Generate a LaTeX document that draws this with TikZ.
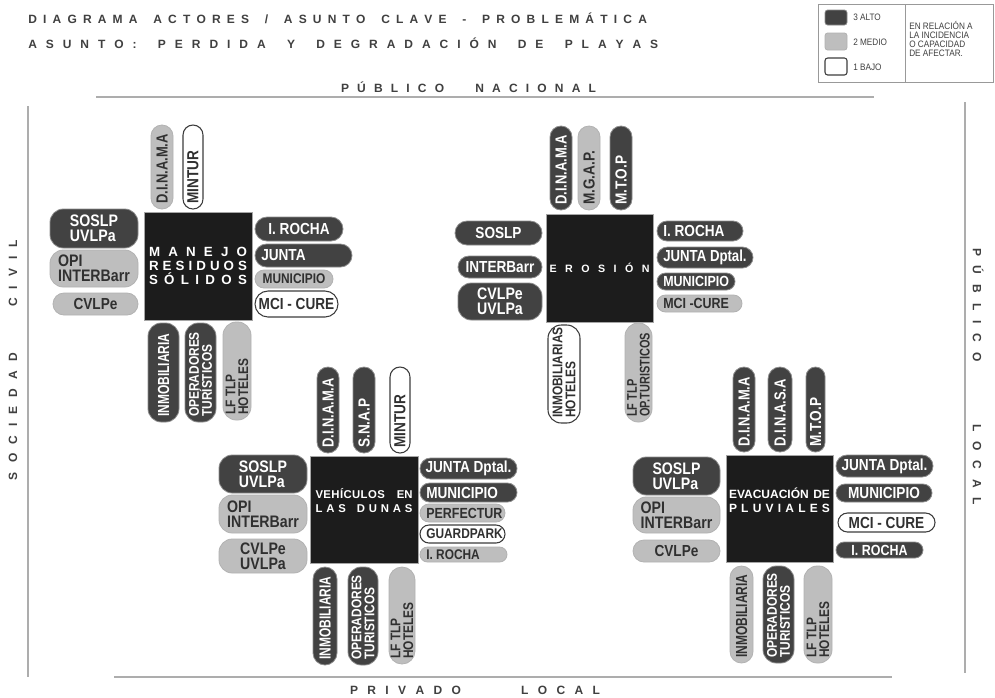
\documentclass[tikz,border=0pt]{standalone}
\usepackage{fontspec}
\setmainfont{Liberation Sans}
\newfontfamily\pillfam{Liberation Sans}[FakeStretch=0.85]
\newfontfamily\narrowfam{Liberation Sans}[FakeStretch=0.88]
\usepackage{graphicx}
\definecolor{dkfill}{HTML}{424242}
\definecolor{dkdraw}{HTML}{8C8C8C}
\definecolor{mdfill}{HTML}{BEBEBE}
\definecolor{mddraw}{HTML}{B2B2B2}
\definecolor{whdraw}{HTML}{3C3C3C}
\definecolor{sqfill}{HTML}{1C1C1C}
\definecolor{framec}{HTML}{ADADAD}
\definecolor{lblc}{HTML}{404040}
\definecolor{mdtxtc}{HTML}{303030}
% letter spreading
\def\sprA#1{#1\sprB}
\def\sprB#1{\ifx\relax#1\else\hfill#1\expandafter\sprB\fi}
\newcommand\spreadtext[2]{\makebox[#1]{\sprA#2\relax}}
\newcommand\pfs[1]{\pgfmathsetmacro\pfbl{#1*0.92}\fontsize{#1}{\pfbl}\selectfont\pillfam\bfseries}
\newcommand\pillshape[6]{%
  \pgfmathsetmacro\pw{(#5-#3)*0.75}%
  \pgfmathsetmacro\ph{(#6-#4)*0.75}%
  \pgfmathsetmacro\pr{min(\pw,\ph)/2}%
  \pgfmathsetmacro\pr{min(\pr,10)}%
  \node[pillbox, #2, minimum width=\pw pt, minimum height=\ph pt, rounded corners=\pr pt] (#1) at ({(#3+#5)/2},{(#4+#6)/2}) {};%
}
\newcommand\hpill[9]{%
  \pillshape{#1}{#2}{#3}{#4}{#5}{#6}%
  \node[#2txt, inner sep=0pt, align=left, font=\pfs{#7}, xscale=#8, transform shape] at (#1.center) {#9};%
}
\newcommand\hpillL[9]{%
  \pillshape{#1}{#2}{#3}{#4}{#5}{#6}%
  \node[#2txt, inner sep=0pt, align=left, font=\pfs{#7}, anchor=west, xscale=#8, transform shape] at ({#3+6},{(#4+#6)/2}) {#9};%
}
\newcommand\vpill[9]{%
  \pillshape{#1}{#2}{#3}{#4}{#5}{#6}%
  \node[#2txt, inner sep=0pt, align=left, font=\pfs{#7}, anchor=west, rotate=90, xscale=#8, transform shape] at ({(#3+#5)/2},{#6-5}) {#9};%
}
\newcommand\sqbox[5]{%
  \pgfmathsetmacro\pw{(#4-#2)*0.75}%
  \pgfmathsetmacro\ph{(#5-#3)*0.75}%
  \node[sqstyle, minimum width=\pw pt, minimum height=\ph pt] (#1) at ({(#2+#4)/2},{(#3+#5)/2}) {};%
}
\begin{document}
\begin{tikzpicture}[x=0.75pt,y=-0.75pt,
  pillbox/.style={inner sep=0pt, outer sep=0pt},
  dk/.style={fill=dkfill, draw=dkdraw, line width=0.6pt},
  md/.style={fill=mdfill, draw=mddraw, line width=0.6pt},
  wh/.style={fill=white, draw=whdraw, line width=0.8pt},
  dktxt/.style={text=white},
  mdtxt/.style={text=mdtxtc},
  whtxt/.style={text=mdtxtc},
  sqstyle/.style={fill=sqfill, draw=gray!70, line width=0.6pt, inner sep=0pt},
  sqtxt/.style={text=white, inner sep=0pt, align=center},
  frameline/.style={draw=framec, line width=1.5pt},
  lbl/.style={text=lblc, inner sep=0pt, font=\fontsize{9}{10}\selectfont\bfseries},
  legtxt/.style={text=lblc, inner sep=0pt, font=\fontsize{7}{6.75}\selectfont\narrowfam},
  swatch/.style={minimum width=16.5pt, inner sep=0pt, rounded corners=2pt}
]
\useasboundingbox (0,0) rectangle (995,697);
\fill[white] (0,0) rectangle (995,697);

% frame
\draw[frameline] (96,97) -- (874,97);
\draw[frameline] (28,106) -- (28,677);
\draw[frameline] (114,677) -- (892,677);
\draw[frameline] (965,102) -- (965,673);

% titles and frame labels
\node[lbl, anchor=west] (t1) at (28,18) {\spreadtext{464pt}{DIAGRAMA~ACTORES~/~ASUNTO~CLAVE~-~PROBLEMÁTICA}};
\node[lbl, anchor=west] (t2) at (28,43) {\spreadtext{472.5pt}{ASUNTO:~PERDIDA~Y~DEGRADACIÓN~DE~PLAYAS}};
\node[lbl] (ltop) at (468.5,87) {\spreadtext{191.25pt}{PÚBLICO~~NACIONAL}};
\node[lbl] (lbot) at (475,690) {\spreadtext{187.5pt}{PRIVADO~~~~LOCAL}};
\node[lbl, rotate=90] (lleft) at (13,360) {\spreadtext{180pt}{SOCIEDAD~~~CIVIL}};
\node[lbl, rotate=-90] (lright) at (978,376.5) {\spreadtext{192.75pt}{PÚBLICO~~~~LOCAL}};

% legend
\draw[draw=gray!80, line width=0.6pt] (818,4) rectangle (993,82);
\draw[draw=gray!80, line width=0.6pt] (905,4) -- (905,82);
\node[swatch, dk, minimum height=11.25pt] (sw1) at (836,17.5) {};
\node[swatch, md, minimum height=12.75pt] (sw2) at (836,41.5) {};
\node[swatch, wh, minimum height=12.75pt] (sw3) at (836,66.5) {};
\node[legtxt, anchor=west] (lg1) at (853,17) {3 ALTO};
\node[legtxt, anchor=west] (lg2) at (853,42) {2 MEDIO};
\node[legtxt, anchor=west] (lg3) at (853,67) {1 BAJO};
\node[legtxt, anchor=west, align=left] (lg4) at (909,38.5) {EN RELACIÓN A\\LA INCIDENCIA\\O CAPACIDAD\\DE AFECTAR.};

% ===== cluster 1: manejo residuos solidos
\sqbox{s1}{144}{212}{252}{320}
\node[sqtxt, font=\fontsize{10}{10.5}\selectfont\bfseries] (s1t) at (s1.center) {\spreadtext{73.5pt}{MANEJO}\\\spreadtext{73.5pt}{RESIDUOS}\\\spreadtext{73.5pt}{SÓLIDOS}};
\vpill{a1}{md}{151}{125}{173}{209}{12}{0.95}{D.I.N.A.M.A}
\vpill{a2}{wh}{183}{125}{203}{209}{12}{1}{MINTUR}
\hpill{a3}{dk}{50}{209}{138}{248}{12.5}{1}{SOSLP\\UVLPa}
\hpill{a4}{md}{50}{250}{138}{287}{12.5}{1}{OPI\\INTERBarr}
\hpill{a5}{md}{53}{293}{138}{315}{12}{1}{CVLPe}
\hpill{a6}{dk}{255}{217}{343}{241}{12}{1}{I. ROCHA}
\hpillL{a7}{dk}{255}{244}{352}{267}{12}{1}{JUNTA}
\hpill{a8}{md}{255}{270}{333}{288}{10.5}{1}{MUNICIPIO}
\hpill{a9}{wh}{255}{291}{338}{317}{12}{1}{MCI - CURE}
\vpill{a10}{dk}{148}{323}{179}{422}{12}{0.88}{INMOBILIARIA}
\vpill{a11}{dk}{185}{323}{216}{422}{10.5}{1}{OPERADORES\\TURÍSTICOS}
\vpill{a12}{md}{223}{322}{251}{420}{10.5}{1}{LF TLP\\HOTELES}

% ===== cluster 2: erosion
\sqbox{s2}{546}{214}{653}{322}
\node[sqtxt, font=\fontsize{8}{9}\selectfont\bfseries] (s2t) at (s2.center) {\spreadtext{75pt}{EROSIÓN}};
\vpill{b1}{dk}{550}{126}{572}{210}{12}{0.95}{D.I.N.A.M.A}
\vpill{b2}{md}{578}{126}{600}{210}{12}{1}{M.G.A.P.}
\vpill{b3}{dk}{610}{126}{632}{210}{12}{1}{M.T.O.P}
\hpill{b4}{dk}{455}{221}{542}{245}{12}{1}{SOSLP}
\hpill{b5}{dk}{458}{256}{542}{278}{12}{1}{INTERBarr}
\hpill{b6}{dk}{458}{283}{542}{320}{12.5}{1}{CVLPe\\UVLPa}
\hpillL{b7}{dk}{657}{221}{743}{241}{12}{1}{I. ROCHA}
\hpill{b8}{dk}{657}{247}{753}{268}{12}{0.97}{JUNTA Dptal.}
\hpillL{b9}{dk}{657}{273}{735}{290}{11}{1}{MUNICIPIO}
\hpillL{b10}{md}{657}{295}{742}{312}{11}{1}{MCI -CURE}
\vpill{b11}{wh}{548}{325}{580}{423}{10.5}{1}{INMOBILIARIAS\\HOTELES}
\vpill{b12}{md}{625}{323}{652}{422}{10.5}{0.92}{LF TLP\\OP.TURISTICOS}

% ===== cluster 3: vehiculos en las dunas
\sqbox{s3}{310}{456}{418}{563}
\node[sqtxt, font=\fontsize{8.5}{10.5}\selectfont\bfseries] (s3t) at (364,501) {\makebox[72.75pt]{\spreadtext{52pt}{VEHÍCULOS}\hfill EN}\\\spreadtext{72.75pt}{LAS~DUNAS}};
\vpill{c1}{dk}{317}{367}{339}{453}{12}{0.95}{D.I.N.A.M.A}
\vpill{c2}{dk}{353}{367}{375}{453}{12}{1}{S.N.A.P}
\vpill{c3}{wh}{390}{367}{410}{453}{12}{1}{MINTUR}
\hpill{c4}{dk}{219}{455}{307}{493}{12.5}{1}{SOSLP\\UVLPa}
\hpill{c5}{md}{219}{495}{307}{533}{12.5}{1}{OPI\\INTERBarr}
\hpill{c6}{md}{219}{539}{307}{573}{12.5}{1}{CVLPe\\UVLPa}
\hpill{c7}{dk}{420}{458}{517}{479}{12}{1}{JUNTA Dptal.}
\hpillL{c8}{dk}{420}{483}{517}{502}{12}{1}{MUNICIPIO}
\hpillL{c9}{md}{420}{504}{505}{522}{11}{1}{PERFECTUR}
\hpillL{c10}{wh}{420}{525}{505}{543}{10.5}{1}{GUARDPARK}
\hpillL{c11}{md}{420}{547}{507}{562}{10.5}{1}{I. ROCHA}
\vpill{c12}{dk}{313}{567}{337}{665}{12}{0.88}{INMOBILIARIA}
\vpill{c13}{dk}{348}{567}{378}{665}{10.5}{1}{OPERADORES\\TURISTICOS}
\vpill{c14}{md}{389}{567}{415}{664}{10.5}{1}{LF TLP\\HOTELES}

% ===== cluster 4: evacuacion de pluviales
\sqbox{s4}{726}{455}{833}{562}
\node[sqtxt, font=\fontsize{9}{10.5}\selectfont\bfseries] (s4t) at (779.5,500) {\makebox[75.75pt][s]{EVACUACIÓN DE}\\\spreadtext{75.75pt}{PLUVIALES}};
\vpill{d1}{dk}{733}{367}{755}{452}{12}{0.95}{D.I.N.A.M.A}
\vpill{d2}{dk}{768}{367}{792}{452}{12}{0.95}{D.I.N.A.S.A}
\vpill{d3}{dk}{806}{367}{825}{452}{12}{1}{M.T.O.P}
\hpill{d4}{dk}{633}{457}{720}{495}{12.5}{1}{SOSLP\\UVLPa}
\hpill{d5}{md}{633}{497}{720}{533}{12.5}{1}{OPI\\INTERBarr}
\hpill{d6}{md}{633}{540}{720}{562}{12}{1}{CVLPe}
\hpill{d7}{dk}{836}{455}{933}{477}{12}{1}{JUNTA Dptal.}
\hpill{d8}{dk}{836}{484}{932}{502}{12}{1}{MUNICIPIO}
\hpill{d9}{wh}{838}{513}{935}{532}{12}{1}{MCI - CURE}
\hpill{d10}{dk}{836}{542}{923}{558}{11}{1}{I. ROCHA}
\vpill{d11}{md}{730}{566}{753}{663}{12}{0.88}{INMOBILIARIA}
\vpill{d12}{dk}{763}{566}{794}{663}{10.5}{1}{OPERADORES\\TURISTICOS}
\vpill{d13}{md}{804}{566}{832}{663}{10.5}{1}{LF TLP\\HOTELES}
\end{tikzpicture}
\end{document}
